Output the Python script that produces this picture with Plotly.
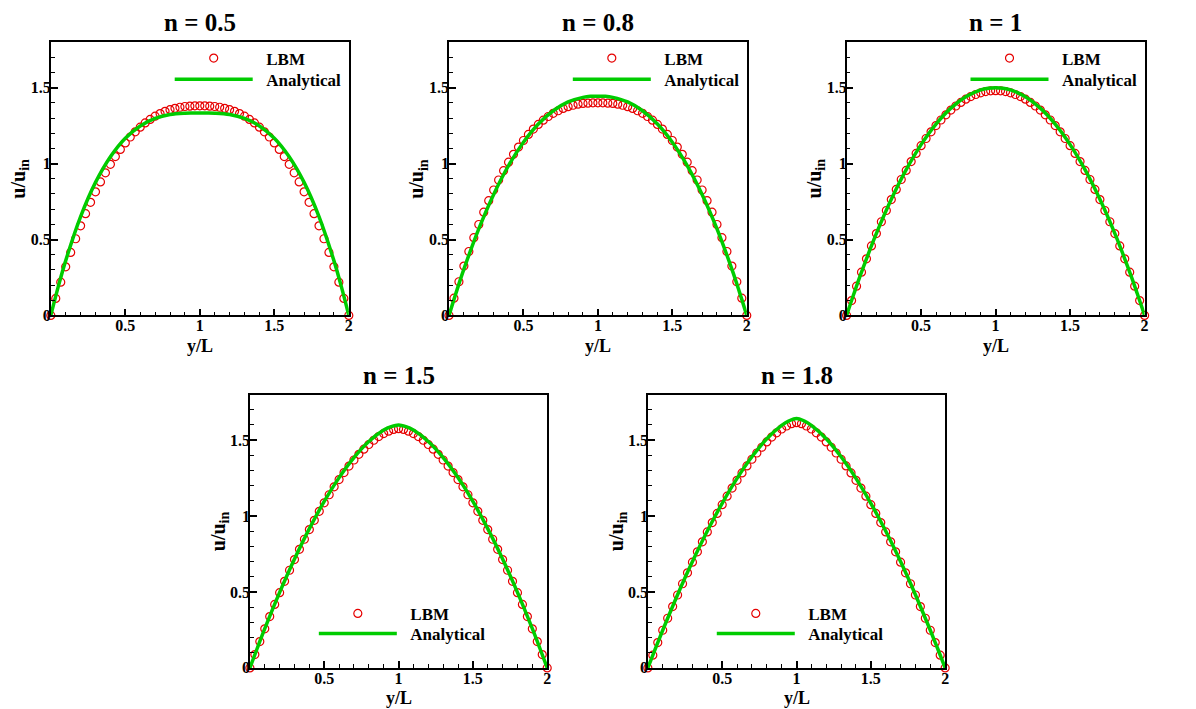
import plotly.graph_objects as go

FONT = 'Liberation Serif, Times New Roman, serif'
RED = '#e60000'
GREEN = '#00cc00'

# body margin of the page shifts the figure by 8px, so it is kept a bit narrower than the window
FIG_W, FIG_H = 1180, 709

# power-law index of each panel
n_labels = ['0.5', '0.8', '1', '1.5', '1.8']

# LBM samples, y/L positions
lbm_y_over_l = [0.0, 0.0333, 0.0667, 0.1, 0.1333, 0.1667, 0.2, 0.2333, 0.2667, 0.3, 0.3333, 0.3667, 0.4, 0.4333,
                0.4667, 0.5, 0.5333, 0.5667, 0.6, 0.6333, 0.6667, 0.7, 0.7333, 0.7667, 0.8, 0.8333, 0.8667, 0.9,
                0.9333, 0.9667, 1.0, 1.0333, 1.0667, 1.1, 1.1333, 1.1667, 1.2, 1.2333, 1.2667, 1.3, 1.3333, 1.3667,
                1.4, 1.4333, 1.4667, 1.5, 1.5333, 1.5667, 1.6, 1.6333, 1.6667, 1.7, 1.7333, 1.7667, 1.8, 1.8333,
                1.8667, 1.9, 1.9333, 1.9667, 2.0]

lbm_n05 = [0.0, 0.112, 0.219, 0.320, 0.415, 0.505, 0.590, 0.670, 0.745, 0.814, 0.879, 0.939, 0.995, 1.046, 1.093,
           1.136, 1.175, 1.209, 1.240, 1.268, 1.291, 1.312, 1.329, 1.344, 1.355, 1.364, 1.371, 1.376, 1.378, 1.380,
           1.380, 1.380, 1.378, 1.376, 1.371, 1.364, 1.355, 1.344, 1.329, 1.312, 1.291, 1.268, 1.240, 1.209, 1.175,
           1.136, 1.093, 1.046, 0.995, 0.939, 0.879, 0.814, 0.745, 0.670, 0.590, 0.505, 0.415, 0.320, 0.219, 0.112,
           0.0]
lbm_n08 = [0.0, 0.114, 0.222, 0.325, 0.421, 0.512, 0.599, 0.680, 0.756, 0.826, 0.892, 0.953, 1.009, 1.061, 1.109,
           1.152, 1.192, 1.227, 1.258, 1.286, 1.310, 1.331, 1.348, 1.363, 1.375, 1.384, 1.391, 1.396, 1.398, 1.400,
           1.400, 1.400, 1.398, 1.396, 1.391, 1.384, 1.375, 1.363, 1.348, 1.331, 1.310, 1.286, 1.258, 1.227, 1.192,
           1.152, 1.109, 1.061, 1.009, 0.953, 0.892, 0.826, 0.756, 0.680, 0.599, 0.512, 0.421, 0.325, 0.222, 0.114,
           0.0]
lbm_n10 = [0.0, 0.098, 0.193, 0.285, 0.373, 0.458, 0.539, 0.617, 0.691, 0.763, 0.830, 0.895, 0.955, 1.013, 1.067,
           1.118, 1.165, 1.209, 1.250, 1.287, 1.321, 1.352, 1.379, 1.403, 1.424, 1.441, 1.455, 1.466, 1.474, 1.479,
           1.480, 1.479, 1.474, 1.466, 1.455, 1.441, 1.424, 1.403, 1.379, 1.352, 1.321, 1.287, 1.250, 1.209, 1.165,
           1.118, 1.067, 1.013, 0.955, 0.895, 0.830, 0.763, 0.691, 0.617, 0.539, 0.458, 0.373, 0.285, 0.193, 0.098,
           0.0]
lbm_n15 = [0.0, 0.088, 0.173, 0.257, 0.338, 0.418, 0.495, 0.570, 0.643, 0.713, 0.781, 0.847, 0.911, 0.972, 1.031,
           1.087, 1.140, 1.192, 1.240, 1.286, 1.329, 1.369, 1.406, 1.440, 1.471, 1.499, 1.523, 1.543, 1.559, 1.570,
           1.575, 1.570, 1.559, 1.543, 1.523, 1.499, 1.471, 1.440, 1.406, 1.369, 1.329, 1.286, 1.240, 1.192, 1.140,
           1.087, 1.031, 0.972, 0.911, 0.847, 0.781, 0.713, 0.643, 0.570, 0.495, 0.418, 0.338, 0.257, 0.173, 0.088,
           0.0]
lbm_n18 = [0.0, 0.084, 0.167, 0.248, 0.327, 0.404, 0.480, 0.554, 0.626, 0.696, 0.764, 0.830, 0.895, 0.957, 1.017,
           1.075, 1.131, 1.184, 1.235, 1.284, 1.330, 1.374, 1.415, 1.453, 1.488, 1.520, 1.548, 1.573, 1.593, 1.608,
           1.615, 1.608, 1.593, 1.573, 1.548, 1.520, 1.488, 1.453, 1.415, 1.374, 1.330, 1.284, 1.235, 1.184, 1.131,
           1.075, 1.017, 0.957, 0.895, 0.830, 0.764, 0.696, 0.626, 0.554, 0.480, 0.404, 0.327, 0.248, 0.167, 0.084,
           0.0]

# analytical profile, y/L positions
an_y_over_l = [0.0, 0.05, 0.1, 0.2, 0.3, 0.4, 0.5, 0.6, 0.7, 0.8, 0.9, 0.95, 1.0, 1.05, 1.1, 1.2, 1.3, 1.4, 1.5, 1.6,
               1.7, 1.8, 1.9, 1.95, 2.0]

an_n05 = [0.0, 0.190, 0.361, 0.651, 0.876, 1.045, 1.167, 1.248, 1.297, 1.323, 1.332, 1.333, 1.333, 1.333, 1.332,
          1.323, 1.297, 1.248, 1.167, 1.045, 0.876, 0.651, 0.361, 0.190, 0.0]
an_n08 = [0.0, 0.157, 0.305, 0.570, 0.797, 0.987, 1.141, 1.261, 1.348, 1.406, 1.436, 1.443, 1.444, 1.443, 1.436,
          1.406, 1.348, 1.261, 1.141, 0.987, 0.797, 0.570, 0.305, 0.157, 0.0]
an_n10 = [0.0, 0.146, 0.285, 0.540, 0.765, 0.960, 1.125, 1.260, 1.365, 1.440, 1.485, 1.496, 1.500, 1.496, 1.485,
          1.440, 1.365, 1.260, 1.125, 0.960, 0.765, 0.540, 0.285, 0.146, 0.0]
an_n15 = [0.0, 0.131, 0.258, 0.497, 0.717, 0.917, 1.096, 1.253, 1.385, 1.491, 1.566, 1.589, 1.600, 1.589, 1.566,
          1.491, 1.385, 1.253, 1.096, 0.917, 0.717, 0.497, 0.258, 0.131, 0.0]
an_n18 = [0.0, 0.126, 0.248, 0.482, 0.700, 0.901, 1.084, 1.248, 1.390, 1.509, 1.597, 1.627, 1.643, 1.627, 1.597,
          1.509, 1.390, 1.248, 1.084, 0.901, 0.700, 0.482, 0.248, 0.126, 0.0]

x_tick_vals = [0.5, 1, 1.5, 2]
x_tick_text = ['0.5', '1', '1.5', '2']
y_tick_vals = [0, 0.5, 1, 1.5]
y_tick_text = ['0', '0.5', '1', '1.5']

lbm_series = [lbm_n05, lbm_n08, lbm_n10, lbm_n15, lbm_n18]
an_series = [an_n05, an_n08, an_n10, an_n15, an_n18]

# paper domains of the five panels: (x0, x1), (y0, y1), legend at top (True) or bottom
TOP_ROW, BOTTOM_ROW = (0.5608, 0.9513), (0.0573, 0.4478)
PANELS = [
    ((0.0364, 0.2898), TOP_ROW, True),
    ((0.3750, 0.6282), TOP_ROW, True),
    ((0.7131, 0.9665), TOP_ROW, True),
    ((0.2057, 0.4585), BOTTOM_ROW, False),
    ((0.5441, 0.7969), BOTTOM_ROW, False),
]
# legend rows (marker row, line row) in paper units
LEGEND_ROWS_TOP = (0.9278, 0.8977)
LEGEND_ROWS_BOTTOM = (0.1345, 0.1059)


def axis_style(tick_vals, tick_text, rng, domain, anchor):
    return dict(
        domain=domain, anchor=anchor, range=rng,
        showgrid=False, zeroline=False,
        showline=True, linecolor='black', linewidth=1.5, mirror=True,
        ticks='inside', ticklen=7, tickwidth=1.5, tickcolor='black',
        tickmode='array', tickvals=tick_vals, ticktext=tick_text, ticklabelstandoff=-5,
        tickfont=dict(family=FONT, size=16, color='black', weight='bold'),
        minor=dict(dtick=0.1, tick0=0, ticks='inside', ticklen=4, tickwidth=1, tickcolor='black'),
    )


def legend_style(x, y):
    # one legend per entry, so marker row and line row can be spaced like the original
    return dict(x=x, y=y, xanchor='left', yanchor='middle', bgcolor='rgba(0,0,0,0)',
                font=dict(family=FONT, size=17, color='black'), itemwidth=78)


def text_note(x, y, text, size, angle=0):
    return dict(x=x, y=y, xref='paper', yref='paper', text=text, showarrow=False, textangle=angle,
                xanchor='center', yanchor='middle', font=dict(family=FONT, size=size, color='black'))


fig = go.Figure()
layout = {}
annotations = []

for i, (n, lbm, an, (xdom, ydom, legend_top)) in enumerate(zip(n_labels, lbm_series, an_series, PANELS), start=1):
    suffix = '' if i == 1 else str(i)
    lbm_legend = 'legend' if i == 1 else 'legend%d' % (2 * i - 1)
    an_legend = 'legend%d' % (2 * i)
    fig.add_trace(go.Scatter(
        x=lbm_y_over_l, y=lbm, mode='markers', name='&nbsp;&nbsp;<b>LBM</b>',
        marker=dict(symbol='circle-open', size=8, color=RED, line=dict(width=1.2, color=RED)),
        xaxis='x' + suffix, yaxis='y' + suffix, legend=lbm_legend, cliponaxis=False,
    ))
    fig.add_trace(go.Scatter(
        x=an_y_over_l, y=an, mode='lines', name='&nbsp;&nbsp;<b>Analytical</b>',
        line=dict(color=GREEN, width=3.5, shape='spline'),
        xaxis='x' + suffix, yaxis='y' + suffix, legend=an_legend, cliponaxis=False,
    ))

    layout['xaxis' + suffix] = axis_style(x_tick_vals, x_tick_text, [0, 2], xdom, 'y' + suffix)
    layout['yaxis' + suffix] = axis_style(y_tick_vals, y_tick_text, [0, 1.8], ydom, 'x' + suffix)

    width = xdom[1] - xdom[0]
    legend_x = xdom[0] + width * (0.399 if legend_top else 0.215)
    lbm_y, an_y = LEGEND_ROWS_TOP if legend_top else LEGEND_ROWS_BOTTOM
    layout[lbm_legend] = legend_style(legend_x, lbm_y)
    layout[an_legend] = legend_style(legend_x, an_y)

    x_mid = (xdom[0] + xdom[1]) / 2
    y_mid = (ydom[0] + ydom[1]) / 2
    annotations.append(text_note(x_mid, ydom[1] + 19.5 / FIG_H, '<b>n = %s</b>' % n, 25))
    annotations.append(text_note(x_mid, ydom[0] - 30.5 / FIG_H, '<b>y/L</b>', 18))
    annotations.append(text_note(xdom[0] - 31 / FIG_W, y_mid, '<b>u/u<sub>in</sub></b>', 20, angle=-90))

fig.update_layout(
    width=FIG_W, height=FIG_H,
    margin=dict(l=0, r=0, t=0, b=0),
    paper_bgcolor='white', plot_bgcolor='white',
    showlegend=True,
    annotations=annotations,
    **layout
)

fig.write_html('out.html')
